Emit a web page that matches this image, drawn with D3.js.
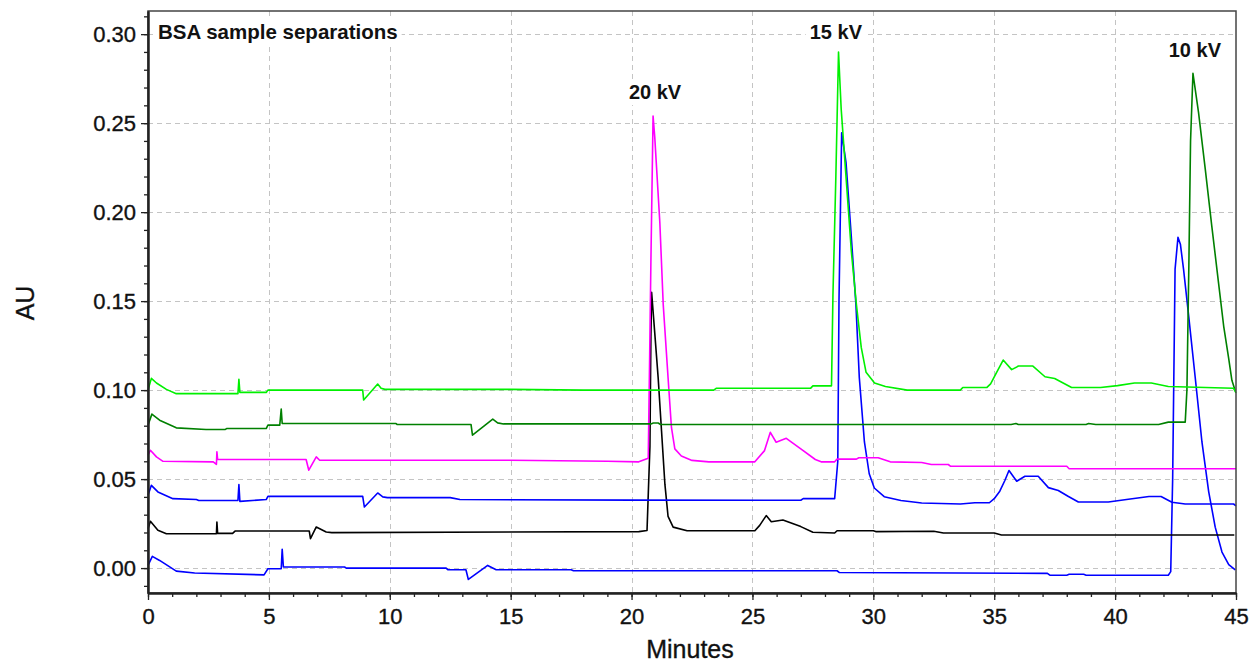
<!DOCTYPE html>
<html><head><meta charset="utf-8">
<script src="https://cdn.jsdelivr.net/npm/d3@7"></script>
<style>
html,body{margin:0;padding:0;background:#fff;}
text{font-family:"Liberation Sans",Arial,sans-serif;}
</style></head>
<body>
<svg id="chart" width="1251" height="662"></svg>
<script>
// ---------- DATA ----------
const xTicks = [0,5,10,15,20,25,30,35,40,45];
const yTicks = [0.00,0.05,0.10,0.15,0.20,0.25,0.30];
const chartTitle = "BSA sample separations";
const peakLabels = [
  {text:"20 kV", t:20.97, v:0.2635},
  {text:"15 kV", t:28.45, v:0.297},
  {text:"10 kV", t:43.3, v:0.287}
];
const lightGreen = [[0,0.100],[0.14,0.1066],[0.35,0.104],[0.76,0.1004],[1.17,0.098],[3.72,0.098],[3.76,0.106],[3.8,0.0987],[4.89,0.0987],[4.96,0.100],[8.88,0.100],[8.92,0.0944],[9.5,0.1034],[9.64,0.101],[9.8,0.1004],[15,0.1004],[18,0.100],[23.4,0.100],[23.5,0.101],[27.4,0.101],[27.5,0.1024],[28.27,0.1024],[28.33,0.1537],[28.45,0.22],[28.56,0.290],[28.67,0.258],[28.88,0.218],[29.09,0.178],[29.3,0.148],[29.5,0.124],[29.7,0.110],[30.05,0.104],[30.5,0.102],[31.4,0.100],[33.6,0.100],[33.7,0.1015],[34.7,0.1015],[34.85,0.1035],[35.1,0.110],[35.37,0.1169],[35.72,0.1115],[36.0,0.1135],[36.6,0.1135],[37.1,0.1075],[37.5,0.1065],[38.2,0.1015],[39.4,0.1015],[40.1,0.1025],[40.8,0.104],[41.5,0.104],[42.2,0.102],[44.9,0.101],[45,0.0984]];
const darkGreen = [[0,0.0803],[0.16,0.0865],[0.48,0.0831],[1.17,0.0788],[2.4,0.0779],[3.2,0.0779],[3.25,0.0784],[4.89,0.0784],[4.96,0.0803],[5.45,0.0803],[5.51,0.0893],[5.55,0.0812],[10.26,0.0812],[10.3,0.0807],[13.36,0.0807],[13.42,0.0747],[14.26,0.0837],[14.46,0.0816],[14.7,0.081],[20.8,0.081],[20.9,0.0815],[21.1,0.0815],[21.2,0.0807],[35.7,0.0807],[35.9,0.0812],[36.0,0.0807],[38.8,0.0807],[38.9,0.0812],[39.2,0.0807],[41.8,0.0807],[42.2,0.082],[42.9,0.082],[42.97,0.10],[43.05,0.17],[43.12,0.24],[43.22,0.278],[43.45,0.256],[43.73,0.224],[44.0,0.192],[44.28,0.160],[44.49,0.136],[44.7,0.1175],[44.83,0.1055],[44.97,0.0995]];
const magenta = [[0,0.0634],[0.1,0.0662],[0.35,0.0625],[0.62,0.060],[2.7,0.0597],[2.83,0.0583],[2.85,0.0653],[2.88,0.061],[6.54,0.061],[6.65,0.055],[6.96,0.0625],[7.1,0.0606],[15,0.0606],[19,0.0600],[20.3,0.0597],[20.69,0.0617],[20.75,0.12],[20.8,0.172],[20.89,0.254],[20.96,0.242],[21.17,0.194],[21.31,0.148],[21.51,0.107],[21.65,0.079],[21.79,0.067],[22.06,0.063],[22.5,0.0605],[23.2,0.0597],[25.1,0.0597],[25.5,0.066],[25.74,0.0763],[25.98,0.0707],[26.4,0.0729],[27.0,0.067],[27.6,0.061],[27.84,0.0597],[28.4,0.0597],[28.5,0.0612],[29.3,0.0612],[29.4,0.062],[30.2,0.062],[30.7,0.0597],[32.0,0.0593],[32.4,0.0582],[33.1,0.0582],[33.2,0.0572],[38.0,0.0572],[38.1,0.0558],[45,0.0558]];
const blueUpper = [[0,0.0409],[0.14,0.0465],[0.41,0.0428],[1.03,0.039],[2.0,0.0385],[2.1,0.038],[3.72,0.038],[3.76,0.0469],[3.8,0.0375],[4.89,0.0385],[4.96,0.0403],[8.88,0.0403],[8.95,0.0343],[9.5,0.0422],[9.71,0.040],[9.9,0.0396],[12.5,0.0396],[12.9,0.0385],[20,0.0382],[27.0,0.0381],[27.1,0.039],[28.4,0.039],[28.53,0.060],[28.58,0.1507],[28.69,0.2445],[28.87,0.228],[29.08,0.188],[29.28,0.148],[29.42,0.107],[29.63,0.071],[29.83,0.053],[30.04,0.045],[30.45,0.0401],[31.14,0.038],[32,0.0366],[33.6,0.036],[34.2,0.0367],[34.8,0.0367],[35.0,0.039],[35.23,0.0432],[35.44,0.0492],[35.61,0.0548],[35.93,0.0488],[36.27,0.0516],[36.82,0.0516],[37.24,0.0452],[37.65,0.0436],[38.07,0.0402],[38.48,0.0371],[39.72,0.0371],[40.55,0.0387],[41.4,0.0402],[41.9,0.0402],[42.35,0.037],[42.9,0.036],[44.9,0.036],[45,0.035]];
const black = [[0,0.0221],[0.1,0.0263],[0.41,0.0212],[0.76,0.0193],[2.83,0.0193],[2.85,0.0259],[2.88,0.0195],[3.5,0.0195],[3.6,0.0208],[6.67,0.0208],[6.72,0.0165],[6.96,0.0231],[7.37,0.0203],[7.6,0.0199],[20.3,0.0205],[20.64,0.0211],[20.7,0.045],[20.76,0.0683],[20.8,0.13],[20.83,0.155],[20.96,0.132],[21.1,0.107],[21.24,0.077],[21.38,0.047],[21.51,0.029],[21.72,0.023],[22.3,0.021],[25.1,0.021],[25.3,0.024],[25.57,0.0295],[25.78,0.026],[26.26,0.027],[27.0,0.0233],[27.5,0.0201],[28.4,0.0197],[28.5,0.021],[30.0,0.021],[30.1,0.0205],[32.5,0.0207],[32.9,0.0197],[35,0.0197],[35.3,0.0186],[44.93,0.0186]];
const blueLower = [[0,0.0015],[0.18,0.0066],[0.48,0.0043],[1.17,-0.0017],[1.93,-0.0028],[4.8,-0.0038],[4.96,-0.0004],[5.51,-0.0004],[5.55,0.0105],[5.6,0.0006],[8.13,0.0006],[8.2,0.000],[12.33,0.000],[12.4,-0.0009],[13.15,-0.0009],[13.25,-0.0064],[14.05,0.0015],[14.4,-0.0009],[17.5,-0.0009],[17.6,-0.0015],[28.5,-0.0015],[28.6,-0.0025],[37.2,-0.003],[37.3,-0.004],[38.0,-0.004],[38.1,-0.0035],[38.7,-0.0035],[38.8,-0.004],[42.2,-0.004],[42.3,-0.002],[42.38,0.05],[42.48,0.168],[42.6,0.1858],[42.7,0.182],[42.83,0.168],[43.04,0.142],[43.31,0.1075],[43.59,0.071],[43.87,0.043],[44.14,0.023],[44.42,0.009],[44.7,0.002],[44.97,-0.001]];
const seriesList = [
  {name:"blueLower", data:blueLower, color:"#0000ff"},
  {name:"black", data:black, color:"#000000"},
  {name:"blueUpper", data:blueUpper, color:"#0000ff"},
  {name:"magenta", data:magenta, color:"#ff00ff"},
  {name:"darkGreen", data:darkGreen, color:"#008000"},
  {name:"lightGreen", data:lightGreen, color:"#00f000"}
];

// ---------- LAYOUT ----------
const svg = d3.select("#chart");
const x = d3.scaleLinear().domain([0,45]).range([148,1236]);
const y = d3.scaleLinear().domain([-0.014,0.313]).range([593,11]);

// gridlines
const grid = svg.append("g").attr("stroke","#c4c4c4").attr("stroke-width",1).attr("stroke-dasharray","5,4");
grid.selectAll("line.h").data(yTicks).enter().append("line")
  .attr("x1",x(0)).attr("x2",x(45)).attr("y1",d=>Math.round(y(d))+0.5).attr("y2",d=>Math.round(y(d))+0.5);
grid.selectAll("line.v").data(xTicks.filter(d=>d>0&&d<45)).enter().append("line")
  .attr("y1",y(0.313)).attr("y2",y(-0.014)).attr("x1",d=>Math.round(x(d))+0.5).attr("x2",d=>Math.round(x(d))+0.5);

// traces
const line = d3.line().x(d=>x(d[0])).y(d=>y(d[1]));
svg.append("g").selectAll("path").data(seriesList).enter().append("path")
  .attr("d",d=>line(d.data)).attr("fill","none").attr("stroke",d=>d.color)
  .attr("stroke-width",1.6).attr("stroke-linejoin","round");

// frame
svg.append("rect").attr("x",x(0)).attr("y",y(0.313)).attr("width",x(45)-x(0)).attr("height",y(-0.014)-y(0.313))
  .attr("fill","none").attr("stroke","#444").attr("stroke-width",1.5);

// axes
const yMinor = d3.range(-1,32).map(i=>i/100);
const xMinor = d3.range(0,46);
const axisStyle = g=>{g.select(".domain").attr("stroke","#222").attr("stroke-width",2);
  g.selectAll(".tick line").attr("stroke","#222").attr("stroke-width",1.3);
  g.selectAll("text").attr("fill","#111").attr("stroke","#111").attr("stroke-width",0.35).style("font-size","22px");};
svg.append("g").attr("transform",`translate(${x(0)},0)`)
  .call(d3.axisLeft(y).tickValues(yMinor).tickSize(4).tickFormat("").tickSizeOuter(0)).call(axisStyle);
svg.append("g").attr("transform",`translate(${x(0)},0)`)
  .call(d3.axisLeft(y).tickValues(yTicks).tickSize(7).tickPadding(5).tickFormat(d3.format(".2f")).tickSizeOuter(0)).call(axisStyle);
svg.append("g").attr("transform",`translate(0,${y(-0.014)})`)
  .call(d3.axisBottom(x).tickValues(xMinor).tickSize(4).tickFormat("").tickSizeOuter(0)).call(axisStyle);
svg.append("g").attr("transform",`translate(0,${y(-0.014)})`)
  .call(d3.axisBottom(x).tickValues(xTicks).tickSize(7).tickPadding(8).tickFormat(d3.format("d")).tickSizeOuter(0)).call(axisStyle);

// axis titles
svg.append("text").attr("x",690).attr("y",658).attr("text-anchor","middle")
  .style("font-size","25px").attr("fill","#111").attr("stroke","#111").attr("stroke-width",0.35).text("Minutes");
svg.append("text").attr("transform","translate(34,303) rotate(-90)").attr("text-anchor","middle")
  .style("font-size","25px").attr("fill","#111").attr("stroke","#111").attr("stroke-width",0.35).text("AU");

// title and peak labels with white background
function boxedLabel(tx, ty, txt, size, anchor){
  const g = svg.append("g");
  const t = g.append("text").attr("x",tx).attr("y",ty).attr("text-anchor",anchor)
    .style("font-size",size+"px").style("font-weight","bold").attr("fill","#111").text(txt);
  const bb = t.node().getBBox();
  g.insert("rect","text").attr("x",bb.x-4).attr("y",bb.y-2).attr("width",bb.width+8).attr("height",bb.height+4).attr("fill","#fff");
}
boxedLabel(158, 39, chartTitle, 20.5, "start");
peakLabels.forEach(p=>boxedLabel(x(p.t), y(p.v), p.text, 20, "middle"));
</script>
</body></html>
